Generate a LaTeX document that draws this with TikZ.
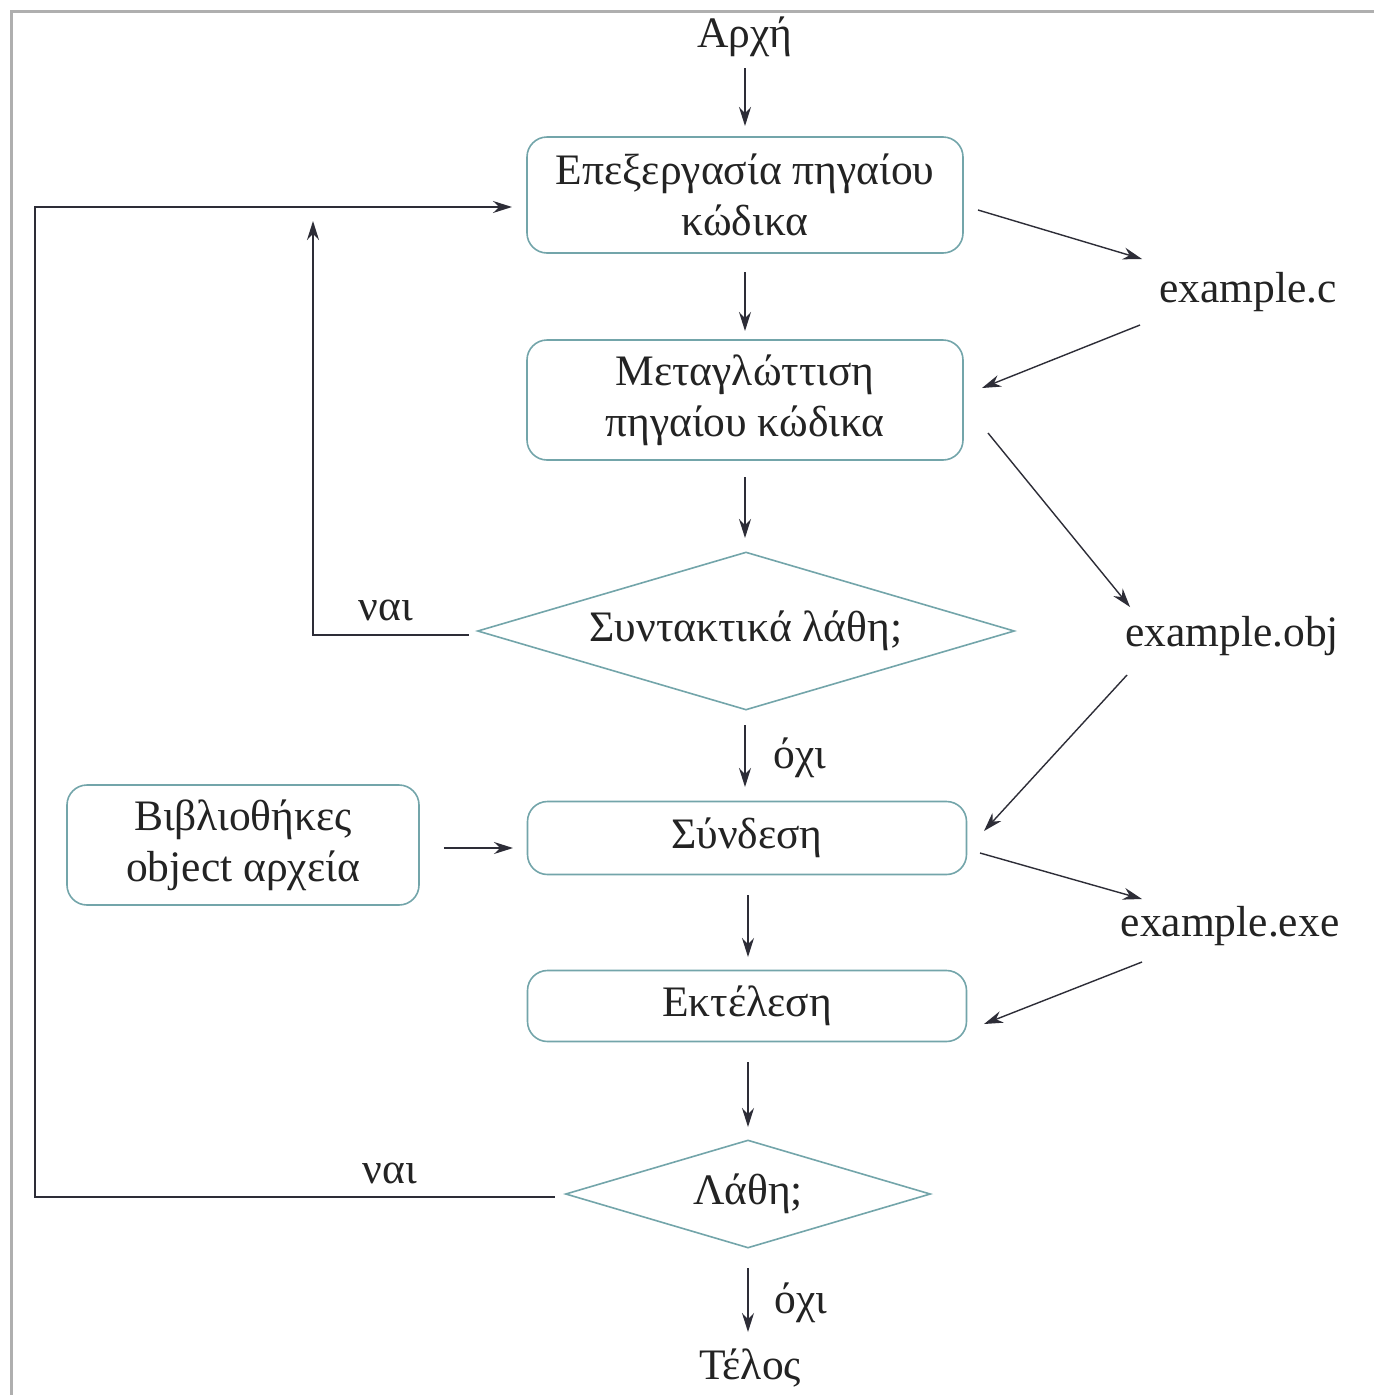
\documentclass[tikz,border=0pt]{standalone}
\usepackage{fontspec}
\setmainfont{Liberation Serif}
\usetikzlibrary{arrows.meta,shapes.geometric}
\definecolor{boxc}{RGB}{115,165,170}
\definecolor{linec}{RGB}{45,45,55}
\definecolor{txtc}{RGB}{35,35,35}
\definecolor{framec}{RGB}{175,175,175}
\begin{document}
\begin{tikzpicture}[x=1pt,y=-1pt,
  every node/.style={text=txtc,font=\fontsize{43.5}{51}\selectfont},
  procbox/.style={draw=boxc,line width=1.6pt,rounded corners=20pt,align=center,inner sep=0pt},
  decision/.style={draw=boxc,line width=1.6pt,diamond,inner sep=0pt,align=center},
  conn/.style={draw=linec,line width=1.4pt,-{Stealth[length=19pt,width=12pt]}},
  plain/.style={draw=linec,line width=1.4pt}]
\useasboundingbox (0,0) rectangle (1374,1395);
\fill[white] (0,0) rectangle (1374,1395);
\draw[framec,line width=3pt] (11,1395) -- (11,11) -- (1374,11);

% nodes
\node (start) at (745,37) {Αρχή};
\node[procbox,minimum width=436pt,minimum height=116pt] (edit) at (745,195) {Επεξεργασία πηγαίου\\κώδικα};
\node[procbox,minimum width=436pt,minimum height=120pt] (comp) at (745,400) {Μεταγλώττιση\\πηγαίου κώδικα};
\node[decision,minimum width=537pt,minimum height=158pt,aspect=3.4] (syn) at (746,631) {Συντακτικά λάθη;};
\node[procbox,minimum width=439pt,minimum height=73pt] (link) at (747,838) {Σύνδεση};
\node[procbox,minimum width=352pt,minimum height=120pt] (lib) at (243,845) {Βιβλιοθήκες\\object αρχεία};
\node[procbox,minimum width=439pt,minimum height=71pt] (run) at (747,1006) {Εκτέλεση};
\node[decision,minimum width=365pt,minimum height=108pt,aspect=3.38] (err) at (748,1194) {Λάθη;};
\node (end) at (750,1368) {Τέλος};
\node (exc) at (1248,292) {example.c};
\node (exobj) at (1232,636) {example.obj};
\node (exexe) at (1230,926) {example.exe};

% labels
\node (yes1) at (386,610) {ναι};
\node (no1) at (800,758) {όχι};
\node (yes2) at (390,1173) {ναι};
\node (no2) at (801,1303) {όχι};

% main flow
\draw[conn] (745,68) -- (745,126);
\draw[conn] (745,272) -- (745,331);
\draw[conn] (745,477) -- (745,538);
\draw[conn] (745,725) -- (745,787);
\draw[conn] (748,895) -- (748,957);
\draw[conn] (748,1062) -- (748,1127);
\draw[conn] (748,1268) -- (748,1332);
\draw[conn] (lib.east) ++(24,3) -- (513,848);

% loops
\coordinate (c1) at (313,635);
\coordinate (c1t) at (313,221);
\draw[conn] (syn.west) ++(-8,4) -- (c1) -- (c1t);
\coordinate (c2) at (35,1197);
\coordinate (c2t) at (35,207);
\draw[conn] (err.west) ++(-10,3) -- (c2) -- (c2t) -- (512,207);

% file arrows
\draw[conn] (978,210) -- (1142,259);
\draw[conn] (1140,325) -- (982,388);
\draw[conn] (988,433) -- (1130,607);
\draw[conn] (1127,675) -- (984,831);
\draw[conn] (980,853) -- (1142,899);
\draw[conn] (1142,962) -- (984,1024);
\end{tikzpicture}
\end{document}
